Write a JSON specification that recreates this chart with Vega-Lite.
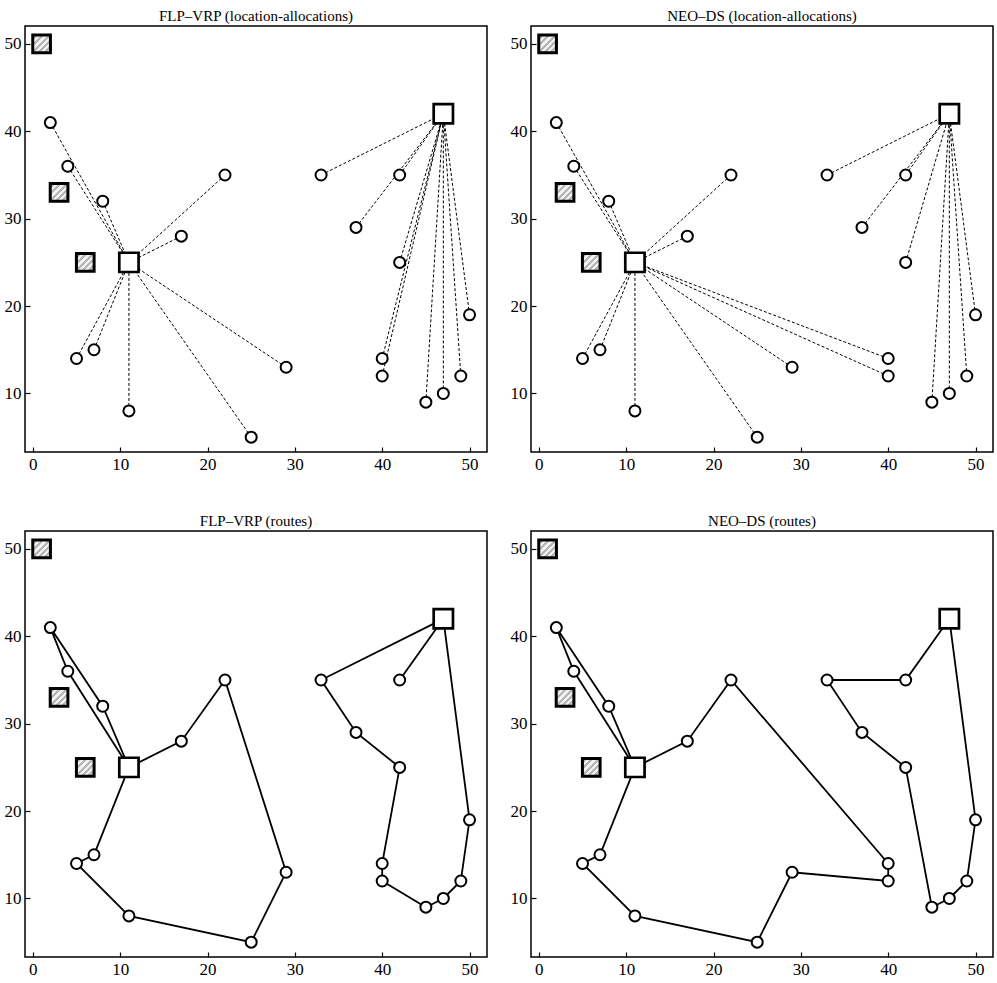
{
  "$schema": "https://vega.github.io/schema/vega-lite/v6.json",
  "padding": {"left": 3, "top": 8, "right": 2, "bottom": 2},
  "columns": 2,
  "spacing": {"row": 40, "column": 21},
  "datasets": {
    "customers": [
      {"x": 2, "y": 41}, {"x": 4, "y": 36}, {"x": 8, "y": 32}, {"x": 22, "y": 35}, {"x": 17, "y": 28},
      {"x": 5, "y": 14}, {"x": 7, "y": 15}, {"x": 11, "y": 8}, {"x": 29, "y": 13}, {"x": 25, "y": 5},
      {"x": 33, "y": 35}, {"x": 37, "y": 29}, {"x": 42, "y": 35}, {"x": 42, "y": 25}, {"x": 40, "y": 14},
      {"x": 40, "y": 12}, {"x": 50, "y": 19}, {"x": 49, "y": 12}, {"x": 47, "y": 10}, {"x": 45, "y": 9}
    ],
    "depots": [{"x": 11, "y": 25}, {"x": 47, "y": 42}],
    "closed": [{"x": 1, "y": 50}, {"x": 3, "y": 33}, {"x": 6, "y": 25}],
    "alloc_flp": [
      {"x": 2, "y": 41, "dx": 11, "dy": 25}, {"x": 4, "y": 36, "dx": 11, "dy": 25}, {"x": 8, "y": 32, "dx": 11, "dy": 25},
      {"x": 22, "y": 35, "dx": 11, "dy": 25}, {"x": 17, "y": 28, "dx": 11, "dy": 25}, {"x": 5, "y": 14, "dx": 11, "dy": 25},
      {"x": 7, "y": 15, "dx": 11, "dy": 25}, {"x": 11, "y": 8, "dx": 11, "dy": 25}, {"x": 29, "y": 13, "dx": 11, "dy": 25},
      {"x": 25, "y": 5, "dx": 11, "dy": 25},
      {"x": 33, "y": 35, "dx": 47, "dy": 42}, {"x": 37, "y": 29, "dx": 47, "dy": 42}, {"x": 42, "y": 35, "dx": 47, "dy": 42},
      {"x": 42, "y": 25, "dx": 47, "dy": 42}, {"x": 40, "y": 14, "dx": 47, "dy": 42}, {"x": 40, "y": 12, "dx": 47, "dy": 42},
      {"x": 50, "y": 19, "dx": 47, "dy": 42}, {"x": 49, "y": 12, "dx": 47, "dy": 42}, {"x": 47, "y": 10, "dx": 47, "dy": 42},
      {"x": 45, "y": 9, "dx": 47, "dy": 42}
    ],
    "alloc_neo": [
      {"x": 2, "y": 41, "dx": 11, "dy": 25}, {"x": 4, "y": 36, "dx": 11, "dy": 25}, {"x": 8, "y": 32, "dx": 11, "dy": 25},
      {"x": 22, "y": 35, "dx": 11, "dy": 25}, {"x": 17, "y": 28, "dx": 11, "dy": 25}, {"x": 5, "y": 14, "dx": 11, "dy": 25},
      {"x": 7, "y": 15, "dx": 11, "dy": 25}, {"x": 11, "y": 8, "dx": 11, "dy": 25}, {"x": 29, "y": 13, "dx": 11, "dy": 25},
      {"x": 25, "y": 5, "dx": 11, "dy": 25}, {"x": 40, "y": 14, "dx": 11, "dy": 25}, {"x": 40, "y": 12, "dx": 11, "dy": 25},
      {"x": 33, "y": 35, "dx": 47, "dy": 42}, {"x": 37, "y": 29, "dx": 47, "dy": 42}, {"x": 42, "y": 35, "dx": 47, "dy": 42},
      {"x": 42, "y": 25, "dx": 47, "dy": 42},
      {"x": 50, "y": 19, "dx": 47, "dy": 42}, {"x": 49, "y": 12, "dx": 47, "dy": 42}, {"x": 47, "y": 10, "dx": 47, "dy": 42},
      {"x": 45, "y": 9, "dx": 47, "dy": 42}
    ],
    "routes_flp": [
      {"route": 1, "order": 0, "x": 11, "y": 25}, {"route": 1, "order": 1, "x": 4, "y": 36}, {"route": 1, "order": 2, "x": 2, "y": 41},
      {"route": 1, "order": 3, "x": 8, "y": 32}, {"route": 1, "order": 4, "x": 11, "y": 25},
      {"route": 2, "order": 0, "x": 11, "y": 25}, {"route": 2, "order": 1, "x": 7, "y": 15}, {"route": 2, "order": 2, "x": 5, "y": 14},
      {"route": 2, "order": 3, "x": 11, "y": 8}, {"route": 2, "order": 4, "x": 25, "y": 5}, {"route": 2, "order": 5, "x": 29, "y": 13},
      {"route": 2, "order": 6, "x": 22, "y": 35}, {"route": 2, "order": 7, "x": 17, "y": 28}, {"route": 2, "order": 8, "x": 11, "y": 25},
      {"route": 3, "order": 0, "x": 47, "y": 42}, {"route": 3, "order": 1, "x": 33, "y": 35}, {"route": 3, "order": 2, "x": 37, "y": 29},
      {"route": 3, "order": 3, "x": 42, "y": 25}, {"route": 3, "order": 4, "x": 40, "y": 14}, {"route": 3, "order": 5, "x": 40, "y": 12},
      {"route": 3, "order": 6, "x": 45, "y": 9}, {"route": 3, "order": 7, "x": 47, "y": 10}, {"route": 3, "order": 8, "x": 49, "y": 12},
      {"route": 3, "order": 9, "x": 50, "y": 19}, {"route": 3, "order": 10, "x": 47, "y": 42},
      {"route": 4, "order": 0, "x": 47, "y": 42}, {"route": 4, "order": 1, "x": 42, "y": 35}, {"route": 4, "order": 2, "x": 47, "y": 42}
    ],
    "routes_neo": [
      {"route": 1, "order": 0, "x": 11, "y": 25}, {"route": 1, "order": 1, "x": 4, "y": 36}, {"route": 1, "order": 2, "x": 2, "y": 41},
      {"route": 1, "order": 3, "x": 8, "y": 32}, {"route": 1, "order": 4, "x": 11, "y": 25},
      {"route": 2, "order": 0, "x": 11, "y": 25}, {"route": 2, "order": 1, "x": 17, "y": 28}, {"route": 2, "order": 2, "x": 22, "y": 35},
      {"route": 2, "order": 3, "x": 40, "y": 14}, {"route": 2, "order": 4, "x": 40, "y": 12}, {"route": 2, "order": 5, "x": 29, "y": 13},
      {"route": 2, "order": 6, "x": 25, "y": 5}, {"route": 2, "order": 7, "x": 11, "y": 8}, {"route": 2, "order": 8, "x": 5, "y": 14},
      {"route": 2, "order": 9, "x": 7, "y": 15}, {"route": 2, "order": 10, "x": 11, "y": 25},
      {"route": 3, "order": 0, "x": 47, "y": 42}, {"route": 3, "order": 1, "x": 50, "y": 19}, {"route": 3, "order": 2, "x": 49, "y": 12},
      {"route": 3, "order": 3, "x": 47, "y": 10}, {"route": 3, "order": 4, "x": 45, "y": 9}, {"route": 3, "order": 5, "x": 42, "y": 25},
      {"route": 3, "order": 6, "x": 37, "y": 29}, {"route": 3, "order": 7, "x": 33, "y": 35}, {"route": 3, "order": 8, "x": 42, "y": 35},
      {"route": 3, "order": 9, "x": 47, "y": 42}
    ]
  },
  "concat": [
    {
      "width": 462, "height": 426,
      "title": "FLP–VRP (location-allocations)",
      "encoding": {
        "x": {"field": "x", "type": "quantitative", "scale": {"domain": [-0.9, 52], "nice": false, "zero": false}, "axis": {"title": null, "values": [0, 10, 20, 30, 40, 50]}},
        "y": {"field": "y", "type": "quantitative", "scale": {"domain": [3.3, 52.05], "nice": false, "zero": false}, "axis": {"title": null, "values": [10, 20, 30, 40, 50]}}
      },
      "layer": [
        {"data": {"name": "alloc_flp"}, "mark": {"type": "rule", "strokeDash": [3, 2], "strokeWidth": 1, "color": "black"}, "encoding": {"x2": {"field": "dx"}, "y2": {"field": "dy"}}},
        {"data": {"name": "closed"}, "mark": {"type": "point", "shape": "square", "size": 313, "strokeWidth": 3, "stroke": "black", "filled": true, "opacity": 1, "fill": {"gradient": "linear", "x1": 0, "y1": 0, "x2": 1, "y2": 1, "stops": [{"offset": 0, "color": "#f2f2f2"}, {"offset": 0.07, "color": "#f2f2f2"}, {"offset": 0.07, "color": "#b5b5b5"}, {"offset": 0.16, "color": "#b5b5b5"}, {"offset": 0.16, "color": "#f2f2f2"}, {"offset": 0.25, "color": "#f2f2f2"}, {"offset": 0.25, "color": "#b5b5b5"}, {"offset": 0.34, "color": "#b5b5b5"}, {"offset": 0.34, "color": "#f2f2f2"}, {"offset": 0.43, "color": "#f2f2f2"}, {"offset": 0.43, "color": "#b5b5b5"}, {"offset": 0.52, "color": "#b5b5b5"}, {"offset": 0.52, "color": "#f2f2f2"}, {"offset": 0.61, "color": "#f2f2f2"}, {"offset": 0.61, "color": "#b5b5b5"}, {"offset": 0.7, "color": "#b5b5b5"}, {"offset": 0.7, "color": "#f2f2f2"}, {"offset": 0.79, "color": "#f2f2f2"}, {"offset": 0.79, "color": "#b5b5b5"}, {"offset": 0.88, "color": "#b5b5b5"}, {"offset": 0.88, "color": "#f2f2f2"}, {"offset": 1, "color": "#f2f2f2"}]}}},
        {"data": {"name": "customers"}, "mark": {"type": "point", "shape": "circle", "size": 121, "strokeWidth": 2, "stroke": "black", "fill": "white", "filled": true, "opacity": 1}},
        {"data": {"name": "depots"}, "mark": {"type": "point", "shape": "square", "size": 372, "strokeWidth": 2.7, "stroke": "black", "fill": "white", "filled": true, "opacity": 1}}
      ]
    },
    {
      "width": 462, "height": 426,
      "title": "NEO–DS (location-allocations)",
      "encoding": {
        "x": {"field": "x", "type": "quantitative", "scale": {"domain": [-0.9, 52], "nice": false, "zero": false}, "axis": {"title": null, "values": [0, 10, 20, 30, 40, 50]}},
        "y": {"field": "y", "type": "quantitative", "scale": {"domain": [3.3, 52.05], "nice": false, "zero": false}, "axis": {"title": null, "values": [10, 20, 30, 40, 50]}}
      },
      "layer": [
        {"data": {"name": "alloc_neo"}, "mark": {"type": "rule", "strokeDash": [3, 2], "strokeWidth": 1, "color": "black"}, "encoding": {"x2": {"field": "dx"}, "y2": {"field": "dy"}}},
        {"data": {"name": "closed"}, "mark": {"type": "point", "shape": "square", "size": 313, "strokeWidth": 3, "stroke": "black", "filled": true, "opacity": 1, "fill": {"gradient": "linear", "x1": 0, "y1": 0, "x2": 1, "y2": 1, "stops": [{"offset": 0, "color": "#f2f2f2"}, {"offset": 0.07, "color": "#f2f2f2"}, {"offset": 0.07, "color": "#b5b5b5"}, {"offset": 0.16, "color": "#b5b5b5"}, {"offset": 0.16, "color": "#f2f2f2"}, {"offset": 0.25, "color": "#f2f2f2"}, {"offset": 0.25, "color": "#b5b5b5"}, {"offset": 0.34, "color": "#b5b5b5"}, {"offset": 0.34, "color": "#f2f2f2"}, {"offset": 0.43, "color": "#f2f2f2"}, {"offset": 0.43, "color": "#b5b5b5"}, {"offset": 0.52, "color": "#b5b5b5"}, {"offset": 0.52, "color": "#f2f2f2"}, {"offset": 0.61, "color": "#f2f2f2"}, {"offset": 0.61, "color": "#b5b5b5"}, {"offset": 0.7, "color": "#b5b5b5"}, {"offset": 0.7, "color": "#f2f2f2"}, {"offset": 0.79, "color": "#f2f2f2"}, {"offset": 0.79, "color": "#b5b5b5"}, {"offset": 0.88, "color": "#b5b5b5"}, {"offset": 0.88, "color": "#f2f2f2"}, {"offset": 1, "color": "#f2f2f2"}]}}},
        {"data": {"name": "customers"}, "mark": {"type": "point", "shape": "circle", "size": 121, "strokeWidth": 2, "stroke": "black", "fill": "white", "filled": true, "opacity": 1}},
        {"data": {"name": "depots"}, "mark": {"type": "point", "shape": "square", "size": 372, "strokeWidth": 2.7, "stroke": "black", "fill": "white", "filled": true, "opacity": 1}}
      ]
    },
    {
      "width": 462, "height": 426,
      "title": "FLP–VRP (routes)",
      "encoding": {
        "x": {"field": "x", "type": "quantitative", "scale": {"domain": [-0.9, 52], "nice": false, "zero": false}, "axis": {"title": null, "values": [0, 10, 20, 30, 40, 50]}},
        "y": {"field": "y", "type": "quantitative", "scale": {"domain": [3.3, 52.05], "nice": false, "zero": false}, "axis": {"title": null, "values": [10, 20, 30, 40, 50]}}
      },
      "layer": [
        {"data": {"name": "routes_flp"}, "mark": {"type": "line", "strokeWidth": 1.8, "color": "black"}, "encoding": {"detail": {"field": "route", "type": "nominal"}, "order": {"field": "order", "type": "quantitative"}}},
        {"data": {"name": "closed"}, "mark": {"type": "point", "shape": "square", "size": 313, "strokeWidth": 3, "stroke": "black", "filled": true, "opacity": 1, "fill": {"gradient": "linear", "x1": 0, "y1": 0, "x2": 1, "y2": 1, "stops": [{"offset": 0, "color": "#f2f2f2"}, {"offset": 0.07, "color": "#f2f2f2"}, {"offset": 0.07, "color": "#b5b5b5"}, {"offset": 0.16, "color": "#b5b5b5"}, {"offset": 0.16, "color": "#f2f2f2"}, {"offset": 0.25, "color": "#f2f2f2"}, {"offset": 0.25, "color": "#b5b5b5"}, {"offset": 0.34, "color": "#b5b5b5"}, {"offset": 0.34, "color": "#f2f2f2"}, {"offset": 0.43, "color": "#f2f2f2"}, {"offset": 0.43, "color": "#b5b5b5"}, {"offset": 0.52, "color": "#b5b5b5"}, {"offset": 0.52, "color": "#f2f2f2"}, {"offset": 0.61, "color": "#f2f2f2"}, {"offset": 0.61, "color": "#b5b5b5"}, {"offset": 0.7, "color": "#b5b5b5"}, {"offset": 0.7, "color": "#f2f2f2"}, {"offset": 0.79, "color": "#f2f2f2"}, {"offset": 0.79, "color": "#b5b5b5"}, {"offset": 0.88, "color": "#b5b5b5"}, {"offset": 0.88, "color": "#f2f2f2"}, {"offset": 1, "color": "#f2f2f2"}]}}},
        {"data": {"name": "customers"}, "mark": {"type": "point", "shape": "circle", "size": 121, "strokeWidth": 2, "stroke": "black", "fill": "white", "filled": true, "opacity": 1}},
        {"data": {"name": "depots"}, "mark": {"type": "point", "shape": "square", "size": 372, "strokeWidth": 2.7, "stroke": "black", "fill": "white", "filled": true, "opacity": 1}}
      ]
    },
    {
      "width": 462, "height": 426,
      "title": "NEO–DS (routes)",
      "encoding": {
        "x": {"field": "x", "type": "quantitative", "scale": {"domain": [-0.9, 52], "nice": false, "zero": false}, "axis": {"title": null, "values": [0, 10, 20, 30, 40, 50]}},
        "y": {"field": "y", "type": "quantitative", "scale": {"domain": [3.3, 52.05], "nice": false, "zero": false}, "axis": {"title": null, "values": [10, 20, 30, 40, 50]}}
      },
      "layer": [
        {"data": {"name": "routes_neo"}, "mark": {"type": "line", "strokeWidth": 1.8, "color": "black"}, "encoding": {"detail": {"field": "route", "type": "nominal"}, "order": {"field": "order", "type": "quantitative"}}},
        {"data": {"name": "closed"}, "mark": {"type": "point", "shape": "square", "size": 313, "strokeWidth": 3, "stroke": "black", "filled": true, "opacity": 1, "fill": {"gradient": "linear", "x1": 0, "y1": 0, "x2": 1, "y2": 1, "stops": [{"offset": 0, "color": "#f2f2f2"}, {"offset": 0.07, "color": "#f2f2f2"}, {"offset": 0.07, "color": "#b5b5b5"}, {"offset": 0.16, "color": "#b5b5b5"}, {"offset": 0.16, "color": "#f2f2f2"}, {"offset": 0.25, "color": "#f2f2f2"}, {"offset": 0.25, "color": "#b5b5b5"}, {"offset": 0.34, "color": "#b5b5b5"}, {"offset": 0.34, "color": "#f2f2f2"}, {"offset": 0.43, "color": "#f2f2f2"}, {"offset": 0.43, "color": "#b5b5b5"}, {"offset": 0.52, "color": "#b5b5b5"}, {"offset": 0.52, "color": "#f2f2f2"}, {"offset": 0.61, "color": "#f2f2f2"}, {"offset": 0.61, "color": "#b5b5b5"}, {"offset": 0.7, "color": "#b5b5b5"}, {"offset": 0.7, "color": "#f2f2f2"}, {"offset": 0.79, "color": "#f2f2f2"}, {"offset": 0.79, "color": "#b5b5b5"}, {"offset": 0.88, "color": "#b5b5b5"}, {"offset": 0.88, "color": "#f2f2f2"}, {"offset": 1, "color": "#f2f2f2"}]}}},
        {"data": {"name": "customers"}, "mark": {"type": "point", "shape": "circle", "size": 121, "strokeWidth": 2, "stroke": "black", "fill": "white", "filled": true, "opacity": 1}},
        {"data": {"name": "depots"}, "mark": {"type": "point", "shape": "square", "size": 372, "strokeWidth": 2.7, "stroke": "black", "fill": "white", "filled": true, "opacity": 1}}
      ]
    }
  ],
  "config": {
    "font": "Liberation Serif",
    "view": {"stroke": "black", "strokeWidth": 1.5},
    "axis": {"grid": false, "domain": false, "tickColor": "black", "tickSize": -5, "tickWidth": 1.2, "labelFont": "Liberation Serif", "labelFontSize": 17, "labelColor": "black", "labelPadding": 9, "labelFlush": false},
    "title": {"font": "Liberation Serif", "fontSize": 15, "fontWeight": "normal", "color": "black", "offset": 2}
  }
}
